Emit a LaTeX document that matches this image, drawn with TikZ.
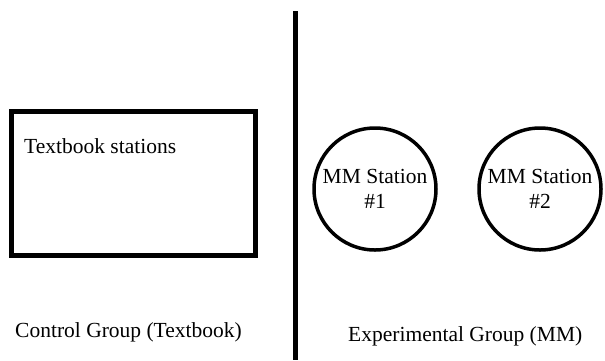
\documentclass[tikz,border=0pt]{standalone}
\usepackage{fontspec}
\setmainfont{Liberation Serif}
\usepackage{tikz}
\usetikzlibrary{positioning}

\begin{document}
\begin{tikzpicture}[x=1pt,y=-1pt,font=\fontsize{21.5}{25}\selectfont,
 groupbox/.style={draw=black,line width=4.5pt,minimum width=243.8pt,minimum height=143.8pt,inner sep=0pt},
 stationnode/.style={draw=black,circle,line width=3.5pt,minimum size=122pt,inner sep=0pt,align=center},
 plaintext/.style={anchor=base west,inner sep=0pt},
 divider/.style={draw=black,line width=4.5pt}]
\useasboundingbox (0,0) rectangle (605,360);
\node[groupbox] (textbookbox) at (133.6,183.6) {};
\node[plaintext] (textbooklabel) at (24,153) {Textbook stations};
\node[stationnode] (station1) at (375,189) {MM Station\\\#1};
\node[stationnode] (station2) at (540,189) {MM Station\\\#2};
\coordinate (divtop) at (295.5,11);
\coordinate (divbot) at (295.5,360);
\draw[divider] (divtop) -- (divbot);
\node[plaintext] (controllabel) at (15,337) {Control Group (Textbook)};
\node[plaintext] (experimentlabel) at (348,341) {Experimental Group (MM)};
\end{tikzpicture}
\end{document}
